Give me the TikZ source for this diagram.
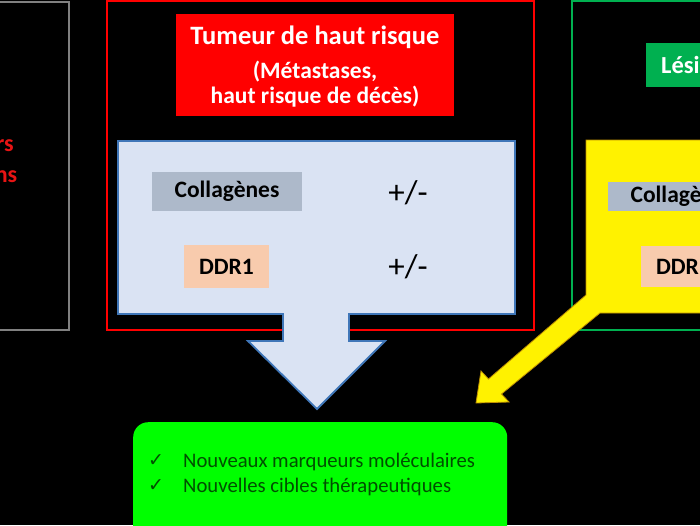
\documentclass[tikz,border=0pt]{standalone}
\usepackage{fontspec}
\setmainfont{Carlito}
\newfontfamily\symfont{DejaVu Sans}
\definecolor{redline}{HTML}{FF0000}
\definecolor{grayline}{HTML}{808080}
\definecolor{greenline}{HTML}{00B050}
\definecolor{lightblue}{HTML}{DAE3F3}
\definecolor{blueedge}{HTML}{3F76B8}
\definecolor{collag}{HTML}{ADB9CA}
\definecolor{ddrfill}{HTML}{F8CBAD}
\definecolor{brightgreen}{HTML}{00FF00}
\definecolor{darkgreentext}{HTML}{004F00}
\definecolor{yellowedge}{HTML}{BF9000}
\definecolor{lefttext}{HTML}{E81414}
\begin{document}
\begin{tikzpicture}[x=1pt,y=-1pt,
  frame/.style={draw, line width=2.5pt},
  tag/.style={inner sep=0pt, font=\bfseries\fontsize{23.5}{28}\selectfont, text=black},
  pm/.style={font=\fontsize{33}{38}\selectfont, text=black, inner sep=0pt}]
\useasboundingbox (0,0) rectangle (700,525);
\fill[black] (0,0) rectangle (700,525);
\clip (0,0) rectangle (700,525);

% outer frames
\draw[frame, grayline] (-10,2) rectangle (69,330);
\draw[frame, redline] (107,1) rectangle (534,330);
\draw[frame, greenline] (572,1) rectangle (720,330);

% left partial text
\node[anchor=east, inner sep=0pt, text=lefttext, font=\bfseries\fontsize{24}{28}\selectfont] (lt1) at (14,146) {rs};
\node[anchor=east, inner sep=0pt, text=lefttext, font=\bfseries\fontsize{24}{28}\selectfont] (lt2) at (17.5,177) {ns};

% title of red panel
\node[fill=redline, minimum width=278pt, minimum height=102pt, inner sep=0pt] (title) at (315,65) {};
\node[text=white, font=\bfseries\fontsize{26.5}{31}\selectfont, inner sep=0pt] (t1) at (315,37) {Tumeur de haut risque};
\node[text=white, font=\bfseries\fontsize{23.5}{28}\selectfont, inner sep=0pt] (t2) at (315,72) {(Métastases,};
\node[text=white, font=\bfseries\fontsize{23.5}{28}\selectfont, inner sep=0pt] (t3) at (315,97) {haut risque de décès)};

% blue block arrow
\coordinate (bA) at (283,314);
\coordinate (bB) at (349,314);
\draw[fill=lightblue, draw=blueedge, line width=1.8pt, line join=miter]
  (118,141) -- (515,141) -- (515,314) -- (bB) -- (349,341) -- (385,341) -- (317,409)
  -- (248,341) -- (283,341) -- (bA) -- (118,314) -- cycle;

\node[fill=collag, minimum width=150pt, minimum height=39pt, tag] (col1) at (227,191.5) {Collagènes};
\node[fill=ddrfill, minimum width=85pt, minimum height=43pt, tag] (ddr1) at (226.5,266.5) {DDR1};
\node[pm] (pm1) at (408,193) {+/-};
\node[pm] (pm2) at (408,267) {+/-};

% green panel title
\node[fill=greenline, anchor=north west, minimum width=80pt, minimum height=44pt, inner sep=0pt] (gtitle) at (646,43) {};
\node[anchor=west, text=white, font=\bfseries\fontsize{24.5}{29}\selectfont, inner sep=0pt] (gt) at (661,65) {Lési};

% yellow panel with arrow
\draw[fill=yellow, draw=yellowedge, line width=0.8pt, line join=miter]
  (586,140) -- (720,140) -- (720,313) -- (600,313) -- (501.5,394) -- (509,402)
  -- (476,403) -- (481,371) -- (488.5,379) -- (586,295) -- cycle;
\node[fill=collag, minimum width=150pt, minimum height=29pt, tag] (col2) at (683,196.5) {Collagènes};
\node[fill=ddrfill, minimum width=85pt, minimum height=41pt, tag] (ddr2) at (683.5,266.5) {DDR1};

% result box
\node[fill=brightgreen, rounded corners=15pt, anchor=north west, minimum width=374pt, minimum height=130pt, inner sep=0pt] (res) at (133,422) {};
\node[anchor=west, text=darkgreentext, font=\fontsize{20.7}{25}\selectfont, inner sep=0pt] (r1) at (183,462) {Nouveaux marqueurs moléculaires};
\node[anchor=west, text=darkgreentext, font=\fontsize{20.7}{25}\selectfont, inner sep=0pt] (r2) at (183,487) {Nouvelles cibles thérapeutiques};
\node[text=darkgreentext, font=\symfont\fontsize{19}{21}\selectfont, inner sep=0pt] (c1) at (156,461) {✓};
\node[text=darkgreentext, font=\symfont\fontsize{19}{21}\selectfont, inner sep=0pt] (c2) at (156,486) {✓};
\end{tikzpicture}
\end{document}
